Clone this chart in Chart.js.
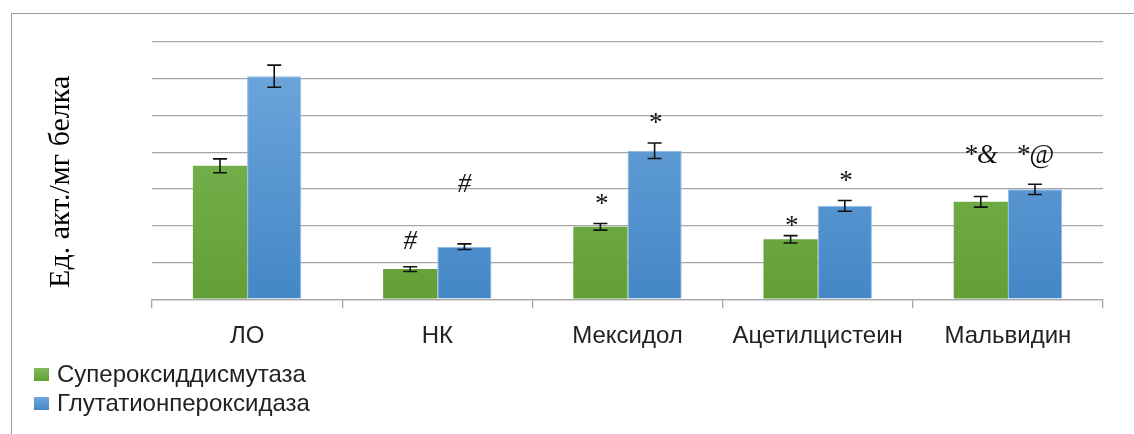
<!DOCTYPE html>
<html lang="ru">
<head>
<meta charset="utf-8">
<title>Активность ферментов</title>
<script src="https://cdn.jsdelivr.net/npm/chart.js@4"></script>
<style>
    body { margin: 0; background: #fff; }
    #obertka { position: relative; width: 1134px; height: 434px; overflow: hidden; }
    #ramka {
        position: absolute; left: 11px; top: 13px; width: 1200px; height: 500px;
        border-left: 1.5px solid #9a9a9a; border-top: 1.5px solid #9a9a9a;
    }
    #grafik { position: absolute; left: 0; top: 0; }
    #legenda {
        position: absolute; left: 34px; top: 359px;
        font-family: "Liberation Sans", Arial, sans-serif; font-size: 24px; color: #222;
    }
    .punkt { position: relative; height: 29px; line-height: 29px; padding-left: 23px; white-space: nowrap; }
    .kvadrat { position: absolute; left: 0; top: 9px; width: 15px; height: 13px; }
</style>
</head>
<body>
<div id="obertka">
    <div id="ramka"></div>
    <canvas id="grafik" width="1134" height="434"></canvas>
    <div id="legenda"></div>
</div>
<script>
// Группы
const kategorii = ['ЛО', 'НК', 'Мексидол', 'Ацетилцистеин', 'Мальвидин'];

// Супероксиддисмутаза
const sodZnach = [3.63, 0.82, 1.97, 1.63, 2.65];
const sodOshibka = [0.19, 0.065, 0.09, 0.10, 0.145];

// Глутатионпероксидаза
const gpxZnach = [6.07, 1.43, 4.04, 2.54, 2.99];
const gpxOshibka = [0.30, 0.077, 0.21, 0.145, 0.14];

// Значки достоверности и их высота (в единицах оси)
const sodMetki = ['', '#', '*', '*', '*&'];
const sodMetkiY = [null, 1.37, 2.37, 1.78, 3.70];
const gpxMetki = ['', '#', '*', '*', '*@'];
const gpxMetkiY = [null, 2.92, 4.57, 3.01, 3.70];

// Ось Y без подписей делений, 7 линий сетки
const osY = { min: 0, max: 7, shag: 1 };

const tsveta = {
    sod: ['#80ba5c', '#62a035'],
    gpx: ['#70a8dd', '#4487c7']
};

function gradient(context, para) {
    const area = context.chart.chartArea;
    if (!area) return para[1];
    const g = context.chart.ctx.createLinearGradient(0, area.top, 0, area.bottom);
    g.addColorStop(0, para[0]);
    g.addColorStop(1, para[1]);
    return g;
}

// Планки погрешностей и значки над столбцами
const oshibkiPlagin = {
    id: 'oshibki',
    afterDatasetsDraw(chart) {
        const ctx = chart.ctx;
        const y = chart.scales.y;
        const nabory = [
            { err: sodOshibka, metki: sodMetki, metkiY: sodMetkiY },
            { err: gpxOshibka, metki: gpxMetki, metkiY: gpxMetkiY }
        ];
        ctx.save();
        nabory.forEach((n, di) => {
            const meta = chart.getDatasetMeta(di);
            const data = chart.data.datasets[di].data;
            meta.data.forEach((bar, i) => {
                const x = bar.x;
                const verh = y.getPixelForValue(data[i] + n.err[i]);
                const niz = y.getPixelForValue(data[i] - n.err[i]);
                ctx.strokeStyle = '#111';
                ctx.lineWidth = 1.6;
                ctx.beginPath();
                ctx.moveTo(x, verh); ctx.lineTo(x, niz);
                ctx.moveTo(x - 7, verh); ctx.lineTo(x + 7, verh);
                ctx.moveTo(x - 7, niz); ctx.lineTo(x + 7, niz);
                ctx.stroke();

                if (n.metki[i]) {
                    ctx.fillStyle = '#111';
                    ctx.font = 'italic 27px "Liberation Serif", "Times New Roman", serif';
                    ctx.textAlign = 'center';
                    ctx.textBaseline = 'alphabetic';
                    ctx.fillText(n.metki[i], x, y.getPixelForValue(n.metkiY[i]));
                }
            });
        });
        ctx.restore();
    }
};

const grafik = new Chart(document.getElementById('grafik'), {
    type: 'bar',
    data: {
        labels: kategorii,
        datasets: [
            {
                label: 'Супероксиддисмутаза',
                data: sodZnach,
                backgroundColor: c => gradient(c, tsveta.sod),
                borderWidth: 0
            },
            {
                label: 'Глутатионпероксидаза',
                data: gpxZnach,
                backgroundColor: c => gradient(c, tsveta.gpx),
                borderColor: '#8fbbe6',
                borderWidth: 1
            }
        ]
    },
    options: {
        responsive: false,
        animation: false,
        categoryPercentage: 0.57,
        barPercentage: 1.0,
        layout: { padding: { left: 0, top: 42, right: 31, bottom: 69 } },
        scales: {
            x: {
                grid: { display: true, drawOnChartArea: false, drawTicks: true, tickLength: 9, color: '#a6a6a6', lineWidth: 1.3 },
                border: { display: true, color: '#a6a6a6', width: 1.3 },
                ticks: {
                    padding: 14,
                    color: '#222',
                    font: { family: '"Liberation Sans", Arial, sans-serif', size: 24 }
                }
            },
            y: {
                min: osY.min,
                max: osY.max,
                ticks: { display: false, stepSize: osY.shag },
                grid: { color: '#a6a6a6', lineWidth: 1.3, drawTicks: false },
                border: { display: false },
                title: {
                    display: true,
                    text: 'Ед. акт./мг белка   ',
                    color: '#000',
                    font: { family: '"Liberation Serif", "Times New Roman", serif', size: 30 },
                    padding: { top: 43, bottom: 73 }
                }
            }
        },
        plugins: {
            legend: { display: false },
            tooltip: { enabled: false }
        }
    },
    plugins: [oshibkiPlagin]
});

// Легенда под графиком
const legenda = document.getElementById('legenda');
grafik.data.datasets.forEach((ds, i) => {
    const para = i === 0 ? tsveta.sod : tsveta.gpx;
    const punkt = document.createElement('div');
    punkt.className = 'punkt';
    const kv = document.createElement('span');
    kv.className = 'kvadrat';
    kv.style.background = 'linear-gradient(' + para[0] + ',' + para[1] + ')';
    punkt.appendChild(kv);
    punkt.appendChild(document.createTextNode(ds.label));
    legenda.appendChild(punkt);
});
</script>
</body>
</html>
